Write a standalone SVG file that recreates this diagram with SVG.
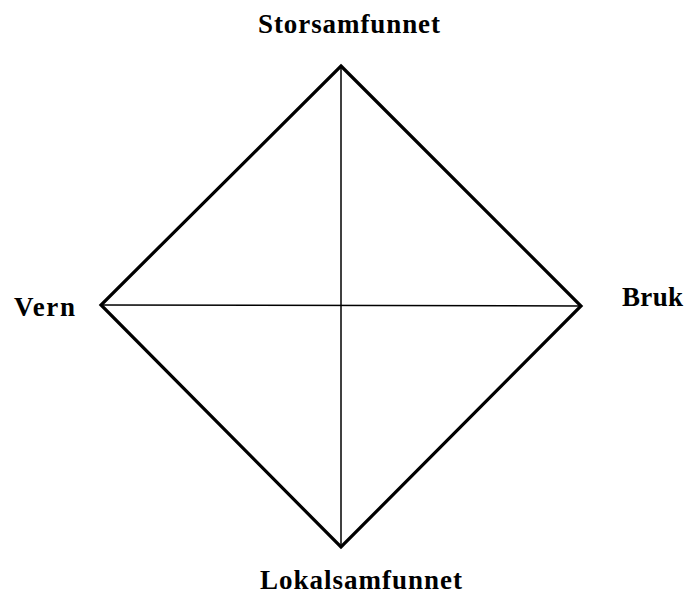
<svg xmlns="http://www.w3.org/2000/svg" width="687" height="596" viewBox="0 0 687 596">
<style>
.lbl{font-family:"Liberation Serif","Times New Roman",serif;font-weight:bold;font-size:27px;fill:#000}
.outer{fill:none;stroke:#000;stroke-width:3.2;stroke-linejoin:miter}
.inner{stroke:#000;stroke-width:1.5}
</style>
<rect width="687" height="596" fill="#fff"/>
<g id="connectors">
<polygon class="outer" points="341,66 581,306 341,547 101,305"/>
<line class="inner" x1="341" y1="66" x2="341" y2="547"/>
<line class="inner" x1="101" y1="305" x2="581" y2="306"/>
</g>
<g id="storsamfunnet"><text class="lbl" x="258" y="33" textLength="182" lengthAdjust="spacing">Storsamfunnet</text></g>
<g id="vern"><text class="lbl" x="14" y="316" textLength="61" lengthAdjust="spacing">Vern</text></g>
<g id="bruk"><text class="lbl" x="622" y="306" textLength="61" lengthAdjust="spacing">Bruk</text></g>
<g id="lokalsamfunnet"><text class="lbl" x="260" y="589" textLength="202" lengthAdjust="spacing">Lokalsamfunnet</text></g>
</svg>
